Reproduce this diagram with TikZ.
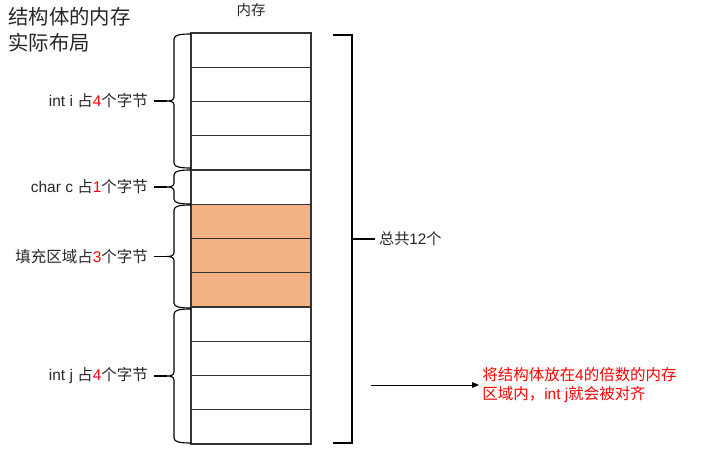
\documentclass[tikz,border=0pt]{standalone}
\usepackage{fontspec}
\setmainfont{Liberation Sans}
\newfontfamily\cjk{Noto Sans CJK SC}
\usetikzlibrary{positioning,arrows.meta}
\definecolor{pad}{HTML}{F4B183}
\definecolor{ink}{HTML}{262626}
\tikzset{
  cell/.style={draw=black!80, line width=0.75pt, minimum width=3cm, minimum height=0.85625cm, inner sep=0pt, outer sep=0pt},
  lbl/.style={font=\fontsize{11}{13}\selectfont, text=ink, inner sep=4pt},
  note/.style={font=\fontsize{11}{13.5}\selectfont, text=red, align=left, inner sep=2pt},
}
% curly brace on the left of the cells: top, bottom, name of tip
\newcommand{\bytebrace}[3]{%
  \draw (191,#1) .. controls (180,#1) and (174,#1+1) .. (174,#1+5)
    -- (174,{(#1+#2)/2-4}) .. controls (174,{(#1+#2)/2-1}) and (171,{(#1+#2)/2}) .. (167,{(#1+#2)/2})
    .. controls (171,{(#1+#2)/2}) and (174,{(#1+#2)/2+1}) .. (174,{(#1+#2)/2+4})
    -- (174,#2-5) .. controls (174,#2-1) and (180,#2) .. (191,#2);
  \coordinate (#3) at (167,{(#1+#2)/2});
}
\begin{document}
\begin{tikzpicture}[x=0.025cm, y=-0.025cm, >={Triangle[length=5pt,width=4pt]}, line width=0.8pt]
    \useasboundingbox (0,0) rectangle (716,457);

    % title
    \node[anchor=west, font=\cjk\fontsize{14.5}{18.5}\selectfont, align=left, text=ink, inner sep=2pt] (title) at (5,30) {结构体的内存\\实际布局};

    % memory cells
    \foreach \i in {0,...,4,8,9,10,11}
        \node[cell] (c\i) at (251,{33+34.25*(\i+0.5)}) {};
    \foreach \i in {5,6,7}
        \node[cell, fill=pad] (c\i) at (251,{33+34.25*(\i+0.5)}) {};
    \node[lbl, above=0.25cm of c0, font=\cjk\fontsize{10.3}{12}\selectfont] (memhead) {内存};

    % braces and labels
    \bytebrace{34}{168}{t1}
    \node[lbl, left=0.325cm of t1] (l1) {int i {\cjk 占}{\color{red}4}{\cjk 个字节}};
    \draw (t1) -- (l1.east);

    \bytebrace{170}{204}{t2}
    \node[lbl, left=0.325cm of t2] (l2) {char c {\cjk 占}{\color{red}1}{\cjk 个字节}};
    \draw (t2) -- (l2.east);

    \bytebrace{205}{308}{t3}
    \node[lbl, left=0.325cm of t3] (l3) {{\cjk 填充区域占}{\color{red}3}{\cjk 个字节}};
    \draw (t3) -- (l3.east);

    \bytebrace{309}{443}{t4}
    \node[lbl, left=0.325cm of t4] (l4) {int j {\cjk 占}{\color{red}4}{\cjk 个字节}};
    \draw (t4) -- (l4.east);

    % total bracket
    \coordinate (tt) at (333,35);
    \coordinate (tb) at (333,443);
    \coordinate (tm) at (352,239);
    \draw (tt) -- (352,35) -- (352,443) -- (tb);
    \node[lbl, right=0.575cm of tm, font=\fontsize{10.8}{13}\selectfont, inner sep=2.5pt] (total) {{\cjk 总共}12{\cjk 个}};
    \draw (tm) -- (total.west);

    % note
    \coordinate (a0) at (371,385);
    \node[note, right=2.7cm of a0] (align) {{\cjk 将结构体放在}4{\cjk 的倍数的内存}\\{\cjk 区域内，}int j{\cjk 就会被对齐}};
    \draw[->, line width=0.6pt] (a0) -- (align.west);
\end{tikzpicture}
\end{document}
